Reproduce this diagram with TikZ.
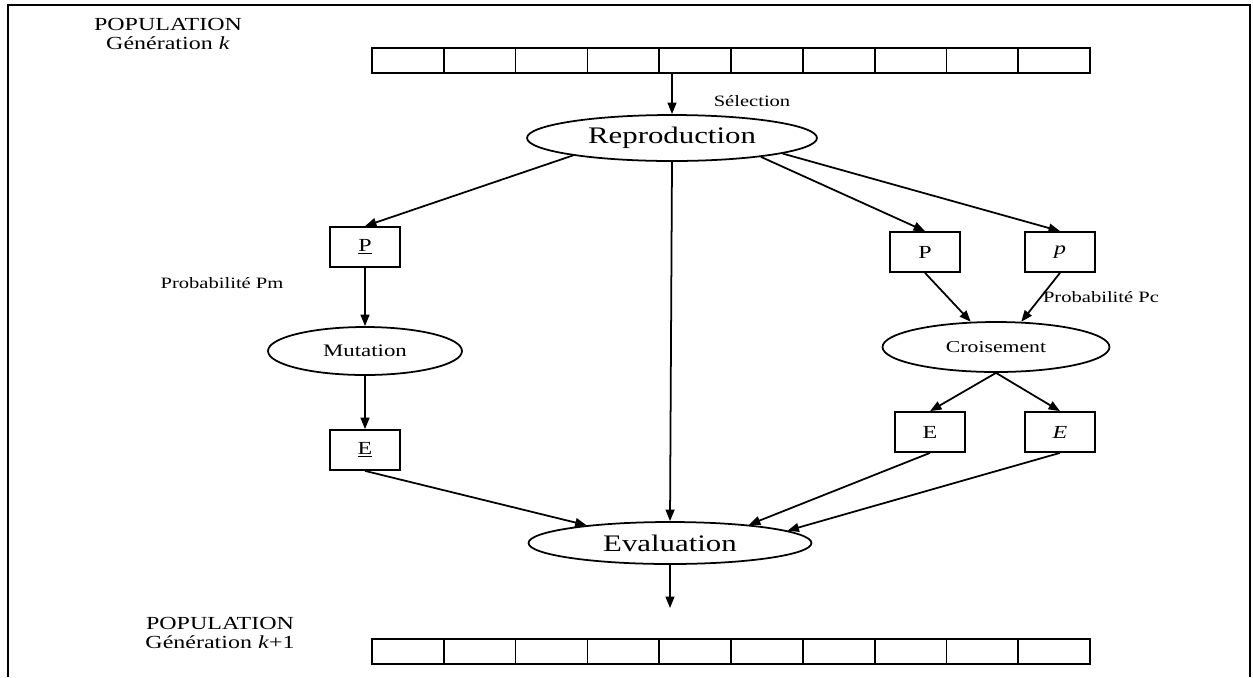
\documentclass[tikz,border=0pt]{standalone}
\usepackage{fontspec}
\setmainfont{Liberation Serif}[FakeStretch=1.3]
\usetikzlibrary{shapes.geometric,arrows.meta}
\tikzset{
  cell/.style={draw,minimum width=1.436cm,minimum height=0.5cm,inner sep=0pt},
  gene/.style={draw,minimum width=1.4cm,minimum height=0.8cm,inner sep=0pt,
    font=\fontsize{10.5}{12}\selectfont},
  oper/.style={draw,ellipse,inner sep=0pt},
  arr/.style={-{Triangle[length=6.5pt,width=5pt]}},
  lbl/.style={font=\fontsize{9}{10}\selectfont},
  poplbl/.style={align=center,font=\fontsize{10.5}{10.5}\selectfont},
}

\begin{document}
\begin{tikzpicture}[x=0.02cm,y=-0.02cm,line width=1pt]
\useasboundingbox (0,0) rectangle (1253,677);
\draw (8,677) -- (8,5) -- (1250,5) -- (1250,677);

% populations
\node[poplbl] (popk) at (168,34) {POPULATION\\Génération \textit{k}};
\node[poplbl] (popk1) at (220,633) {POPULATION\\Génération \textit{k}+1};
\foreach \i in {1,...,10} {
  \node[cell] (t\i) at ({372+35.9+71.8*(\i-1)},60.5) {};
  \node[cell] (b\i) at ({372+35.9+71.8*(\i-1)},651.5) {};
}

% operators
\node[oper,minimum width=5.8cm,minimum height=0.92cm,font=\fontsize{13.5}{14}\selectfont]
  (reprod) at (672,138) {Reproduction};
\node[oper,minimum width=3.88cm,minimum height=0.96cm,font=\fontsize{10}{11}\selectfont]
  (mut) at (365,351) {Mutation};
\node[oper,minimum width=4.54cm,minimum height=1cm,font=\fontsize{9.5}{10}\selectfont]
  (cross) at (996,347) {Croisement};
\node[oper,minimum width=5.66cm,minimum height=0.84cm,font=\fontsize{13.5}{14}\selectfont]
  (eval) at (670,543) {Evaluation};

% parents and children
\node[gene] (pl) at (365,247) {\underline{P}};
\node[gene] (el) at (365,450) {\underline{E}};
\node[gene] (pr) at (925,252) {P};
\node[gene] (pi) at (1060,252) {\textit{p}};
\node[gene] (er) at (930,432) {E};
\node[gene] (ei) at (1060,432) {\textit{E}};

\node[lbl] (sel) at (752,101) {Sélection};
\node[lbl] (pm) at (222,283) {Probabilité Pm};
\node[lbl] (pc) at (1101,297) {Probabilité Pc};
\coordinate (out) at (670,608);

\draw[arr] (t5.south -| reprod.north) -- (reprod.north);
\draw[arr] (reprod.190) -- (pl.north);
\draw[arr] (reprod.-12) -- (pr.north);
\draw[arr] (reprod.-8) -- (pi.north);
\draw[arr] (reprod.south) -- (eval.north);
\draw[arr] (pl.south) -- (mut.north);
\draw[arr] (mut.south) -- (el.north);
\draw[arr] (pr.south) -- (cross.135);
\draw[arr] (pi.south) -- (cross.45);
\draw[arr] (cross.south) -- (er.north);
\draw[arr] (cross.south) -- (ei.north);
\draw[arr] (el.south) -- (eval.168);
\draw[arr] (er.south) -- (eval.13);
\draw[arr] (ei.south) -- (eval.6);
\draw[arr] (eval.south) -- (out);
\end{tikzpicture}
\end{document}
